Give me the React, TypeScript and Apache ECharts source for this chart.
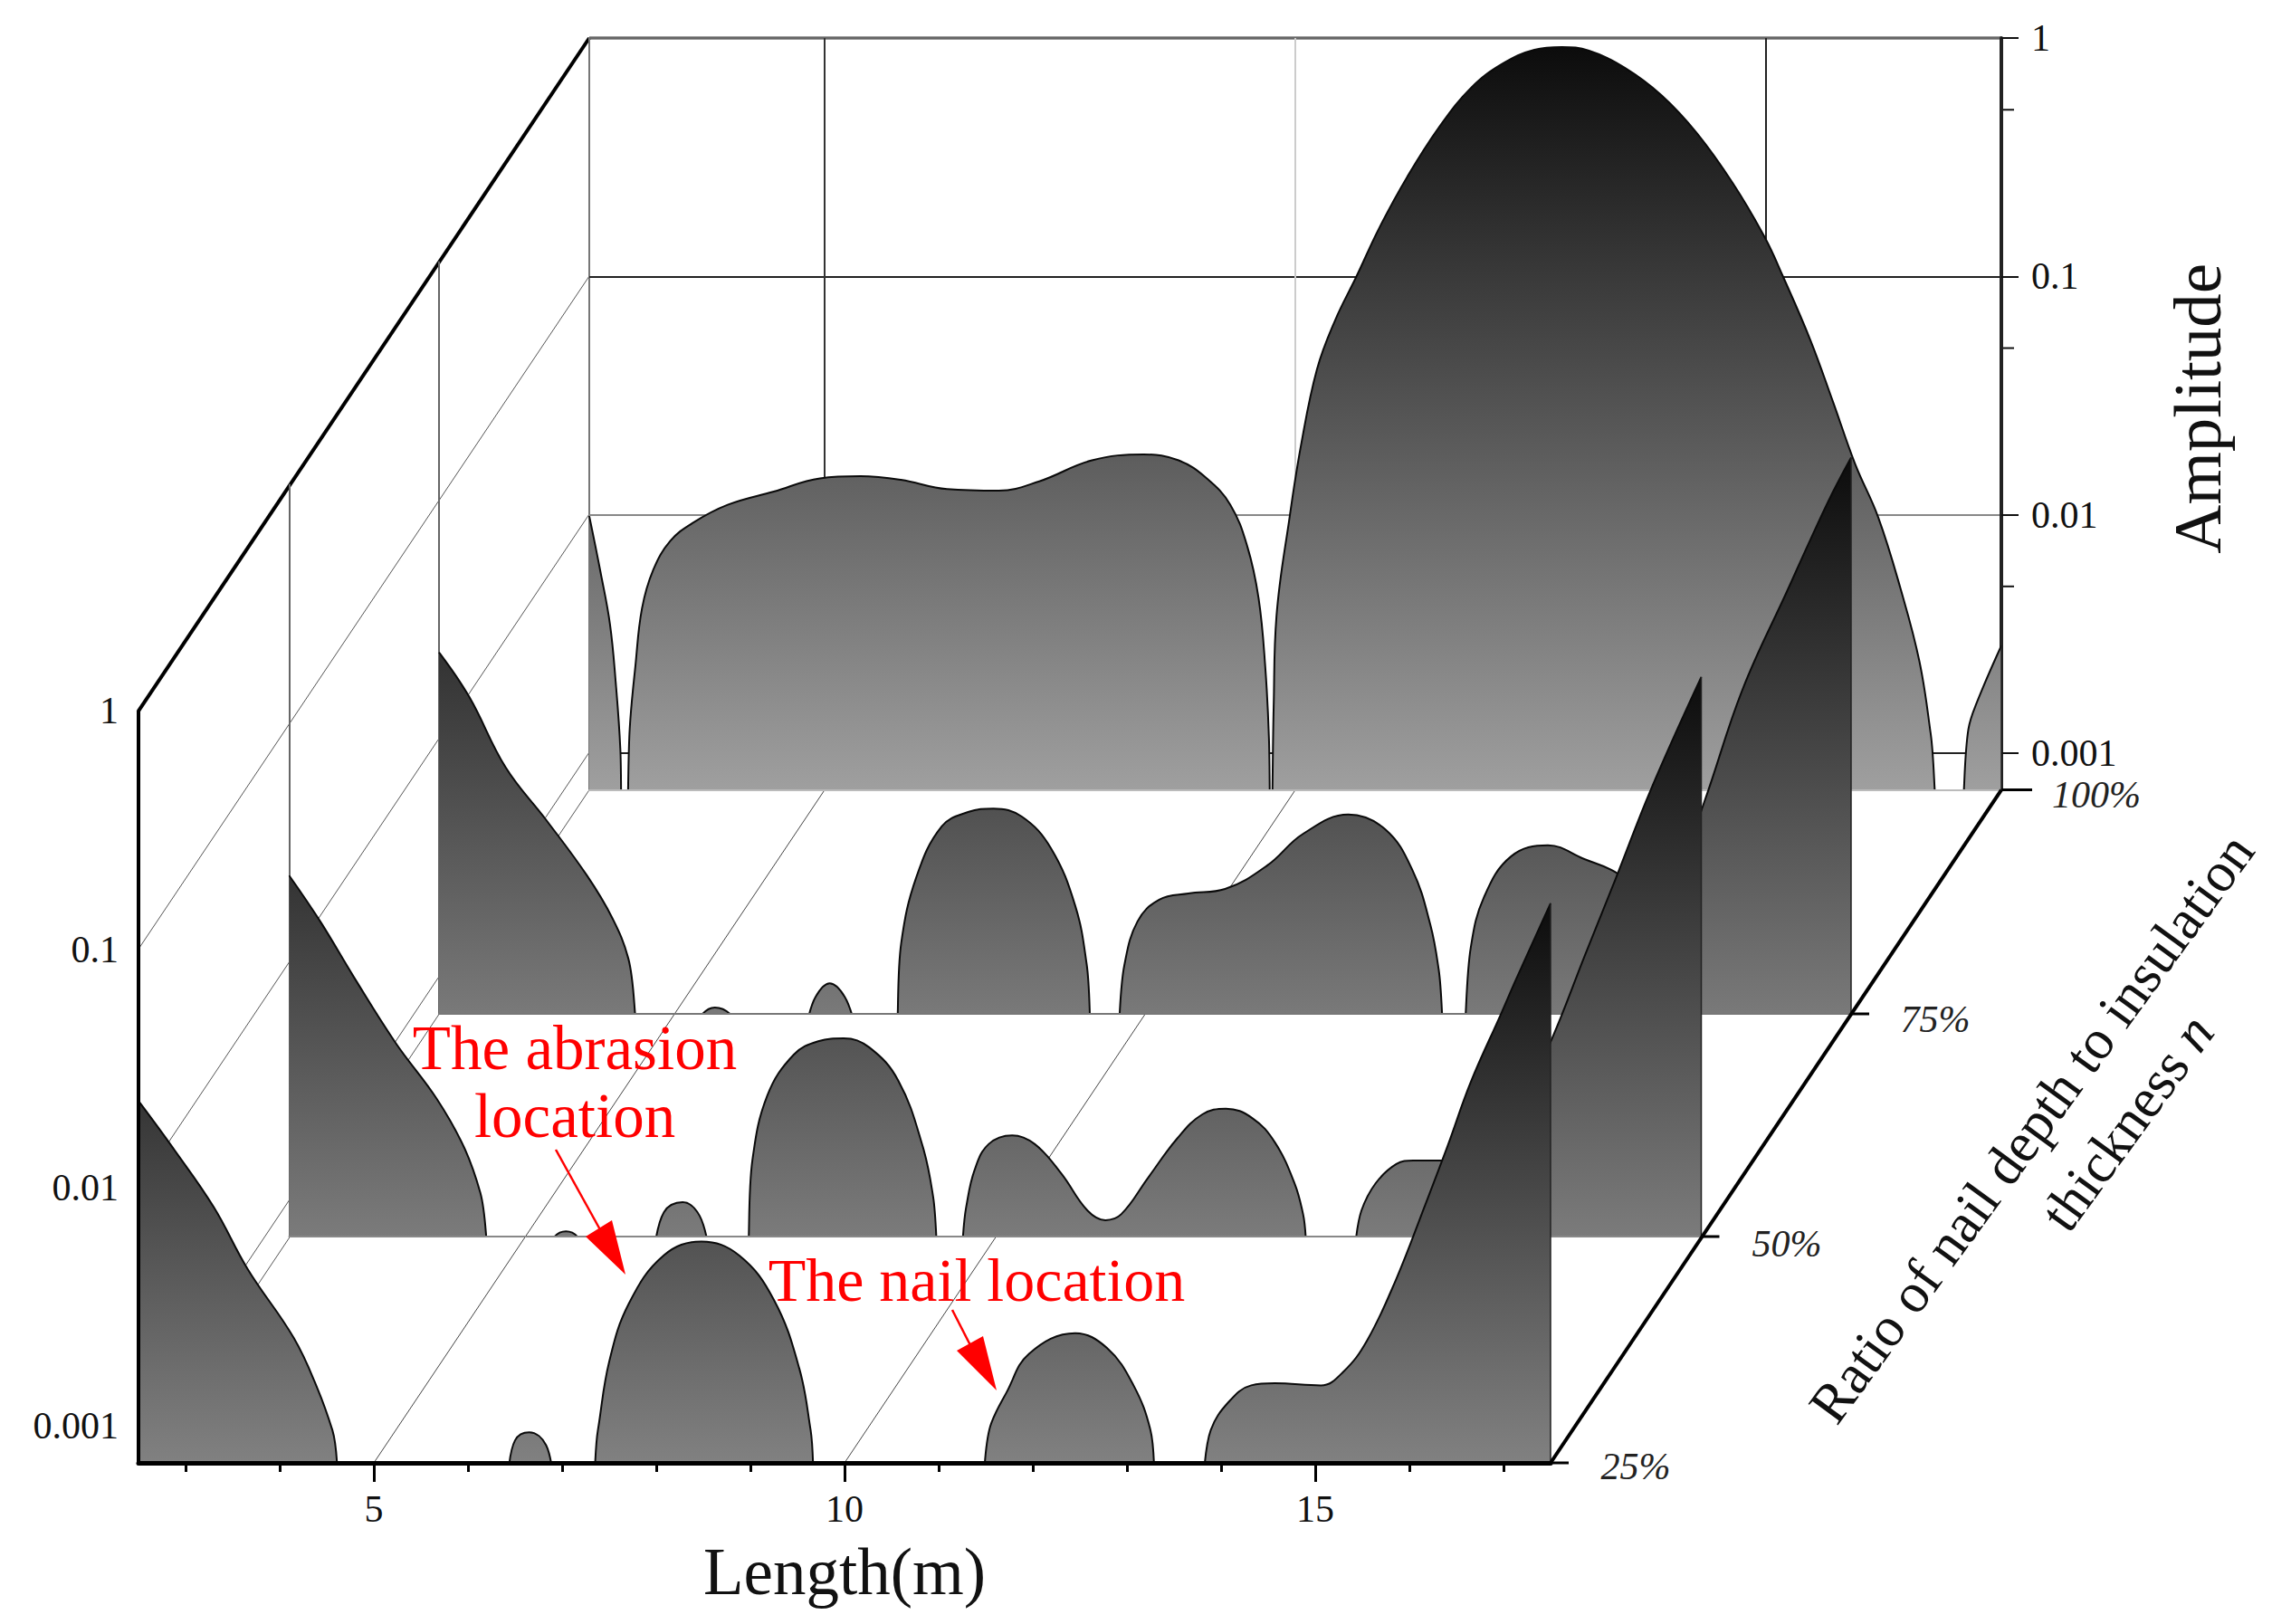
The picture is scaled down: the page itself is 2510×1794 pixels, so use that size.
import React, { useEffect, useRef } from "react";
import * as echarts from "echarts";

const FONT = "Liberation Serif";
const MIN_AMP = 0.0007;
const MAX_AMP = 1;
const MIN_LEN = 2.5;
const MAX_LEN = 17.5;

const xMajorTicks = [5, 10, 15];
const xMinorTicks = [3, 4, 6, 7, 8, 9, 11, 12, 13, 14, 16, 17];
const yTickLabels = ["1", "0.1", "0.01", "0.001"];
const yMinorTicks = [0.5, 0.05, 0.005];
const depthLabels = ["25%", "50%", "75%", "100%"];

// Amplitudes under the axis floor (0.0007) are where the curve leaves the plot.
const len25 = [2.5, 2.87, 3.3, 3.66, 4.15, 4.4, 4.56, 4.76, 6.28, 6.5, 6.65, 6.83, 7.0, 7.26, 7.38, 7.5, 7.71, 8.08, 8.48, 8.88, 9.25, 9.52, 9.64, 9.74, 11.3, 11.56, 11.72, 11.96, 12.45, 12.79, 13.07, 13.25, 13.37, 13.71, 13.89, 14.08, 14.32, 14.57, 15.06, 15.3, 15.55, 15.86, 16.17, 16.41, 16.65, 16.97, 17.13, 17.5];
const amp25 = [0.0231, 0.0146, 0.00828, 0.00455, 0.00234, 0.00144, 0.00096, 0.0005, 0.0005, 0.00087, 0.00094, 0.00083, 0.0005, 0.0005, 0.00096, 0.00186, 0.00327, 0.0052, 0.00594, 0.0052, 0.00338, 0.00174, 0.00096, 0.0005, 0.0005, 0.00103, 0.00138, 0.00201, 0.00245, 0.00212, 0.00148, 0.00096, 0.0005, 0.0005, 0.00096, 0.00126, 0.00148, 0.00151, 0.00148, 0.00169, 0.00228, 0.00413, 0.0085, 0.0151, 0.0276, 0.0532, 0.0743, 0.156];

const len50 = [2.5, 2.83, 3.19, 3.63, 4.07, 4.36, 4.53, 4.73, 5.25, 5.32, 5.44, 5.56, 5.63, 6.24, 6.48, 6.68, 6.86, 7.08, 7.32, 7.42, 7.58, 7.86, 8.12, 8.39, 8.66, 8.97, 9.23, 9.34, 9.44, 9.58, 9.69, 9.78, 9.93, 10.18, 10.42, 10.7, 10.98, 11.17, 11.34, 11.62, 11.93, 12.2, 12.45, 12.73, 12.97, 13.18, 13.27, 13.39, 13.71, 13.89, 14.04, 14.26, 14.44, 14.75, 15.1, 15.5, 15.92, 16.26, 16.59, 16.97, 17.5];
const amp50 = [0.0229, 0.0147, 0.00855, 0.00455, 0.00264, 0.00165, 0.00107, 0.0005, 0.0006, 0.0007, 0.000736, 0.0007, 0.0006, 0.0005, 0.000885, 0.000975, 0.000855, 0.0005, 0.0005, 0.00146, 0.00274, 0.00406, 0.00462, 0.00475, 0.00436, 0.00316, 0.00167, 0.00103, 0.0005, 0.0005, 0.000925, 0.00133, 0.00171, 0.00186, 0.00171, 0.00129, 0.0009, 0.00082, 0.00087, 0.00123, 0.0018, 0.00228, 0.00241, 0.0022, 0.00174, 0.00117, 0.00087, 0.0005, 0.0005, 0.0009, 0.00117, 0.00141, 0.00146, 0.00146, 0.00155, 0.0021, 0.0048, 0.0105, 0.0222, 0.0532, 0.156];

const len75 = [2.5, 2.82, 3.21, 3.64, 4.07, 4.34, 4.51, 4.72, 5.22, 5.3, 5.43, 5.59, 5.67, 6.25, 6.5, 6.65, 6.81, 7.07, 7.31, 7.41, 7.57, 7.84, 8.12, 8.39, 8.69, 9.0, 9.26, 9.38, 9.48, 9.65, 9.78, 9.92, 10.15, 10.46, 10.85, 11.3, 11.68, 12.16, 12.55, 12.84, 13.03, 13.12, 13.22, 13.34, 13.46, 13.6, 13.89, 14.28, 14.66, 15.0, 15.3, 15.6, 15.94, 16.35, 16.83, 17.07, 17.31, 17.5];
const amp75 = [0.023, 0.015, 0.00755, 0.00455, 0.00267, 0.00177, 0.0012, 0.0005, 0.0006, 0.0007, 0.000745, 0.0007, 0.0006, 0.0005, 0.000825, 0.00094, 0.000825, 0.0005, 0.0005, 0.00139, 0.00262, 0.00428, 0.00492, 0.00509, 0.00471, 0.00347, 0.00198, 0.00113, 0.0005, 0.0005, 0.00112, 0.00171, 0.00211, 0.00224, 0.00234, 0.00294, 0.00399, 0.0048, 0.00417, 0.00281, 0.00166, 0.00107, 0.0005, 0.0005, 0.00133, 0.00216, 0.00321, 0.00357, 0.00313, 0.00275, 0.0022, 0.0024, 0.00542, 0.0162, 0.0424, 0.0687, 0.109, 0.151];

const len100 = [2.5, 2.62, 2.72, 2.78, 2.83, 2.85, 2.89, 2.93, 2.99, 3.06, 3.18, 3.36, 3.6, 3.97, 4.46, 4.95, 5.38, 5.81, 6.3, 6.85, 7.28, 7.84, 8.39, 8.76, 9.06, 9.31, 9.49, 9.61, 9.68, 9.72, 9.735, 9.745, 9.77, 9.8, 9.94, 10.06, 10.23, 10.42, 10.65, 10.9, 11.19, 11.53, 11.87, 12.2, 12.54, 12.83, 13.12, 13.5, 13.89, 14.27, 14.65, 14.99, 15.18, 15.47, 15.71, 15.95, 16.19, 16.43, 16.63, 16.75, 16.87, 17.03, 17.15, 17.24, 17.5];
const amp100 = [0.00986, 0.00573, 0.00347, 0.002, 0.00104, 0.0005, 0.0005, 0.00127, 0.00232, 0.00404, 0.00587, 0.00775, 0.00924, 0.011, 0.0125, 0.0142, 0.0145, 0.014, 0.0128, 0.0126, 0.0138, 0.0169, 0.0179, 0.0169, 0.0142, 0.011, 0.00736, 0.00446, 0.00232, 0.00115, 0.0005, 0.0005, 0.00156, 0.00375, 0.0098, 0.0195, 0.0407, 0.065, 0.1, 0.162, 0.262, 0.424, 0.62, 0.78, 0.893, 0.916, 0.885, 0.75, 0.575, 0.397, 0.245, 0.145, 0.1, 0.0542, 0.0299, 0.0162, 0.0098, 0.00488, 0.00242, 0.0012, 0.0005, 0.0005, 0.00126, 0.00163, 0.00282];

const lengths = [len25, len50, len75, len100];
const amps = [amp25, amp50, amp75, amp100];
const names = ["25%", "50%", "75%", "100%"];

// Layout of the four offset panes (front to back).
const PANE_W = 1560;
const PANE_H = 830.6;
const panes = [
  { left: 153, base: 1616 },
  { left: 319.5, base: 1366 },
  { left: 485, base: 1120 },
  { left: 651, base: 872.6 },
];
const bottomGray = ["#888888", "#828282", "#808080", "#a6a6a6"];

const stdAxis = { type: "value" as const, min: MIN_LEN, max: MAX_LEN };
const hidden = {
  axisLine: { show: false },
  axisTick: { show: false },
  axisLabel: { show: false },
  splitLine: { show: false },
};

function yLabel(v: number) {
  const l = Math.log10(v);
  if (Math.abs(l - Math.round(l)) > 0.01) return "";
  return yTickLabels[-Math.round(l)] ?? "";
}

export default function App() {
  const ref = useRef<HTMLDivElement>(null);
  useEffect(() => {
    document.body.style.margin = "0";
    const chart = echarts.init(ref.current!, undefined, { renderer: "svg" });

    const xAxis: any[] = [
      {
        ...stdAxis, gridIndex: 0, z: 20, position: "bottom",
        name: "Length(m)", nameLocation: "middle", nameGap: 84,
        nameTextStyle: { fontFamily: FONT, fontSize: 73, color: "#111" },
        axisLine: { show: true, onZero: false, lineStyle: { color: "#000", width: 5 } },
        axisTick: { show: true, length: 21, customValues: xMajorTicks, lineStyle: { color: "#000", width: 3 } },
        axisLabel: { show: true, customValues: xMajorTicks, margin: 30, fontFamily: FONT, fontSize: 42, color: "#111" },
        splitLine: { show: false },
      },
      { ...stdAxis, gridIndex: 1, z: 10, ...hidden, axisLine: { show: true, onZero: false, lineStyle: { color: "#888", width: 2 } } },
      { ...stdAxis, gridIndex: 2, z: 8, ...hidden, axisLine: { show: true, onZero: false, lineStyle: { color: "#777", width: 2 } } },
      {
        ...stdAxis, gridIndex: 3, z: 1, ...hidden,
        axisTick: { show: false, customValues: xMajorTicks },
        splitLine: { show: true, lineStyle: { color: ["#333", "#ccc", "#222"], width: 2 } },
      },
      {
        ...stdAxis, gridIndex: 0, z: 20, position: "bottom",
        axisLine: { show: false, onZero: false },
        axisLabel: { show: false },
        splitLine: { show: false },
        axisTick: { show: true, length: 10, customValues: xMinorTicks, lineStyle: { color: "#000", width: 3 } },
      },
      { ...stdAxis, gridIndex: 3, z: 6, position: "bottom", ...hidden, axisLine: { show: true, onZero: false, lineStyle: { color: "#bbb", width: 2 } } },
    ];

    const logAxis = { type: "log" as const, logBase: 10, min: MIN_AMP, max: MAX_AMP };
    const wallLine = { show: true, onZero: false, lineStyle: { color: "#666", width: 2 } };
    const yAxis: any[] = [
      {
        ...logAxis, gridIndex: 0, z: 20,
        axisLine: { show: true, onZero: false, lineStyle: { color: "#000", width: 4 } },
        axisTick: { show: false },
        splitLine: { show: false },
        minorTick: { show: false },
        axisLabel: { show: true, margin: 22, padding: [0, 0, 6, 0], formatter: yLabel, fontFamily: FONT, fontSize: 42, color: "#111", hideOverlap: false },
      },
      { ...logAxis, gridIndex: 1, ...hidden, axisLine: wallLine },
      { ...logAxis, gridIndex: 2, ...hidden, axisLine: wallLine },
      {
        ...logAxis, gridIndex: 3, position: "right", z: 1,
        name: "Amplitude", nameLocation: "middle", nameRotate: 90, nameGap: 179,
        nameTextStyle: { fontFamily: FONT, fontSize: 75, color: "#111", padding: [0, 0, 12, 12] },
        axisLine: { show: true, onZero: false, lineStyle: { color: "#222", width: 4 } },
        axisTick: { show: true, length: 19, lineStyle: { color: "#111", width: 2 } },
        axisLabel: { show: true, margin: 33, padding: [0, 0, 6, 0], formatter: yLabel, fontFamily: FONT, fontSize: 42, color: "#111", hideOverlap: false },
        splitLine: { show: true, showMinLine: false, lineStyle: { color: ["#222", "#888", "#222", "#666"], width: 2 } },
      },
      { ...logAxis, gridIndex: 3, position: "left", ...hidden, axisLine: { show: true, onZero: false, lineStyle: { color: "#777", width: 2 } } },
    ];

    const grid = panes.map((p) => ({
      left: p.left, top: p.base - PANE_H, width: PANE_W, height: PANE_H,
      containLabel: false, show: false,
    }));

    const series: any[] = [];
    for (let i = 3; i >= 0; i--) {
      const z = 5 + (3 - i) * 2;
      const data = lengths[i].map((x, k) => [x, amps[i][k]]);
      series.push({
        name: names[i], type: "line", xAxisIndex: i, yAxisIndex: i, z,
        data, smooth: 0.4, showSymbol: false, symbol: "none",
        lineStyle: { color: "#0a0a0a", width: 2 },
        areaStyle: {
          origin: "start", opacity: 1,
          color: {
            type: "linear", x: 0, y: 0, x2: 0, y2: 1,
            colorStops: [
              { offset: 0, color: "#0c0c0c" },
              { offset: 1, color: bottomGray[i] },
            ],
          },
        },
        silent: true,
      });
      series.push({
        name: names[i] + " edge", type: "line", xAxisIndex: i, yAxisIndex: i, z: z + 1,
        data: [[MAX_LEN, amps[i][amps[i].length - 1]], [MAX_LEN, MIN_AMP]],
        showSymbol: false, symbol: "none", clip: false,
        lineStyle: { color: "#222", width: 1.5 }, silent: true,
      });
    }
    // Half-decade ticks on the amplitude axis
    series.push({
      type: "custom", xAxisIndex: 3, yAxisIndex: 3, z: 1, clip: false, silent: true,
      data: yMinorTicks.map((v) => [MAX_LEN, v]),
      renderItem: (_: any, api: any) => {
        const c = api.coord([api.value(0), api.value(1)]);
        return {
          type: "line",
          shape: { x1: c[0], y1: c[1], x2: c[0] + 14, y2: c[1] },
          style: { stroke: "#111", lineWidth: 2 },
        };
      },
    });

    const front = panes[0];
    const back = panes[3];
    const dX = back.left - front.left;
    const dY = back.base - front.base;
    const unit = PANE_W / (MAX_LEN - MIN_LEN);
    const decade = 263;
    const ln = (x1: number, y1: number, x2: number, y2: number, stroke: string, lineWidth: number, z = 0) => ({
      type: "line", z, silent: true, shape: { x1, y1, x2, y2 }, style: { stroke, lineWidth },
    });
    const txt = (text: string, x: number, y: number, fontSize: number, extra: any = {}) => ({
      type: "text", x, y, z: extra.z ?? 100, silent: true, rotation: extra.rotation ?? 0,
      style: {
        text, fontFamily: FONT, fontSize, fill: extra.fill ?? "#111", align: "center", verticalAlign: "middle",
        fontStyle: extra.fontStyle ?? "normal", rich: extra.rich,
      },
    });
    const frontTop = front.base - PANE_H;
    const elements: any[] = [];
    // frame
    elements.push(ln(front.left, frontTop, back.left, back.base - PANE_H, "#000", 4));
    elements.push(ln(front.left + PANE_W, front.base, back.left + PANE_W, back.base, "#000", 4, 30));
    elements.push(ln(back.left, back.base - PANE_H, back.left + PANE_W, back.base - PANE_H, "#333", 3));
    // wall lines
    [1, 2, 3].forEach((k) => {
      const y = frontTop + k * decade;
      elements.push(ln(front.left, y, back.left, y + dY, "#555", 1));
    });
    elements.push(ln(front.left, front.base, back.left, back.base, "#555", 1));
    // floor lines
    xMajorTicks.forEach((t) => {
      const x = front.left + (t - MIN_LEN) * unit;
      elements.push(ln(x, front.base, x + dX, back.base, "#444", 1));
    });
    // depth ticks + labels
    const labelPos = [[1807, 1620], [1974, 1374], [2138, 1126], [2316, 878]];
    panes.forEach((p, i) => {
      const r = p.left + PANE_W;
      elements.push(ln(r, p.base, r + (i === 3 ? 34 : 20), p.base, "#000", 3, 30));
      elements.push(txt(depthLabels[i], labelPos[i][0], labelPos[i][1], 42, { fontStyle: "italic", fill: "#222" }));
    });
    // depth title
    const ang = (53.9 * Math.PI) / 180;
    elements.push(txt("Ratio of nail depth to insulation", 2244, 1246, 62, { rotation: ang }));
    elements.push(txt("thickness {n|n}", 2350, 1240, 62, {
      rotation: ang,
      rich: { n: { fontFamily: FONT, fontSize: 62, fontStyle: "italic", fill: "#111" } },
    }));
    // annotations
    elements.push(txt("The abrasion", 635, 1158, 69, { fill: "#ff0000" }));
    elements.push(txt("location", 635, 1233, 69, { fill: "#ff0000" }));
    elements.push(txt("The nail location", 1079, 1414, 68, { fill: "#ff0000" }));
    elements.push(ln(614, 1270, 665, 1362, "#ff0000", 2.5, 100));
    elements.push({ type: "polygon", z: 100, silent: true, shape: { points: [[647, 1366], [676, 1348], [691, 1408]] }, style: { fill: "#ff0000" } });
    elements.push(ln(1052, 1447, 1074, 1490, "#ff0000", 2.5, 100));
    elements.push({ type: "polygon", z: 100, silent: true, shape: { points: [[1057, 1492], [1086, 1476], [1101, 1536]] }, style: { fill: "#ff0000" } });

    chart.setOption({
      animation: false,
      backgroundColor: "#ffffff",
      grid,
      xAxis,
      yAxis,
      series,
      graphic: { elements },
    });
    return () => chart.dispose();
  }, []);
  return <div ref={ref} style={{ width: 2510, height: 1794 }} />;
}
